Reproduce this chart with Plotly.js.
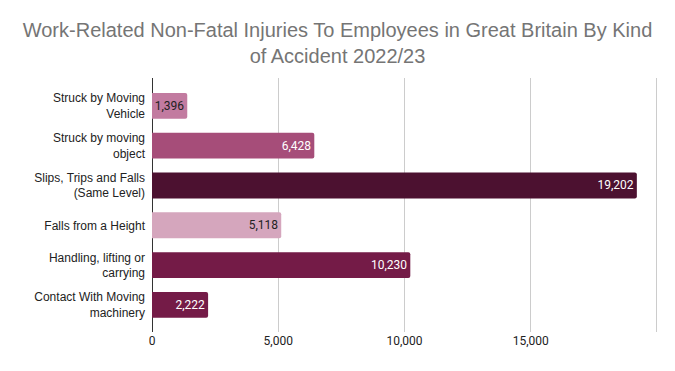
<!DOCTYPE html>
<html>
<head>
<meta charset="utf-8">
<script src="https://cdn.plot.ly/plotly-3.0.1.min.js"></script>
<style>html,body{margin:0;padding:0;background:#fff;}#chart{width:675px;height:371px;}</style>
</head>
<body>
<div id="chart"></div>
<script>
const categories = [
  "Struck by Moving<br>Vehicle",
  "Struck by moving<br>object",
  "Slips, Trips and Falls<br>(Same Level)",
  "Falls from a Height",
  "Handling, lifting or<br>carrying",
  "Contact With Moving<br>machinery"
];
const injuries = [1396, 6428, 19202, 5118, 10230, 2222];
const barColors = ["#c27ba0", "#a64d79", "#4c1130", "#d5a6bd", "#741b47", "#741b47"];
const labelColors = ["#222222", "#ffffff", "#ffffff", "#222222", "#ffffff", "#ffffff"];
const tickValues = [0, 5000, 10000, 15000, 20000];
const tickLabels = ["0", "5,000", "10,000", "15,000", ""];

const trace = {
  type: "bar",
  orientation: "h",
  y: categories,
  x: injuries,
  marker: {color: barColors, cornerradius: 2},
  text: injuries.map(v => v.toLocaleString("en-US")),
  textposition: "inside",
  insidetextanchor: "end",
  textfont: {family: "Roboto, sans-serif", size: 12, color: labelColors},
  hoverinfo: "none"
};

const layout = {
  width: 675, height: 371,
  margin: {l: 152, r: 17, t: 78, b: 39},
  paper_bgcolor: "#fff", plot_bgcolor: "#fff",
  title: {
    text: "Work-Related Non-Fatal Injuries To Employees in Great Britain By Kind<br>of Accident 2022/23",
    font: {family: "Liberation Sans, Arial, sans-serif", size: 20, color: "#757575"},
    x: 0.5, xanchor: "center", y: 0.9, yanchor: "top"
  },
  bargap: 0.35,
  uniformtext: {mode: "show", minsize: 12},
  showlegend: false,
  xaxis: {
    range: [0, 20040],
    tickvals: tickValues, ticktext: tickLabels,
    showgrid: true, gridcolor: "#cccccc", gridwidth: 1,
    zeroline: true, zerolinecolor: "#333333", zerolinewidth: 1,
    tickfont: {family: "Roboto, sans-serif", size: 12, color: "#222"},
    ticks: "", fixedrange: true
  },
  yaxis: {
    type: "category",
    range: [5.68, -0.7],
    tickfont: {family: "Liberation Sans, Arial, sans-serif", size: 12, color: "#222"},
    ticklabelstandoff: 6,
    ticks: "", ticklen: 0, showgrid: false, zeroline: false, showline: false,
    automargin: false
  }
};

Plotly.newPlot("chart", [trace], layout, {displayModeBar: false, staticPlot: true});
</script>
</body>
</html>
